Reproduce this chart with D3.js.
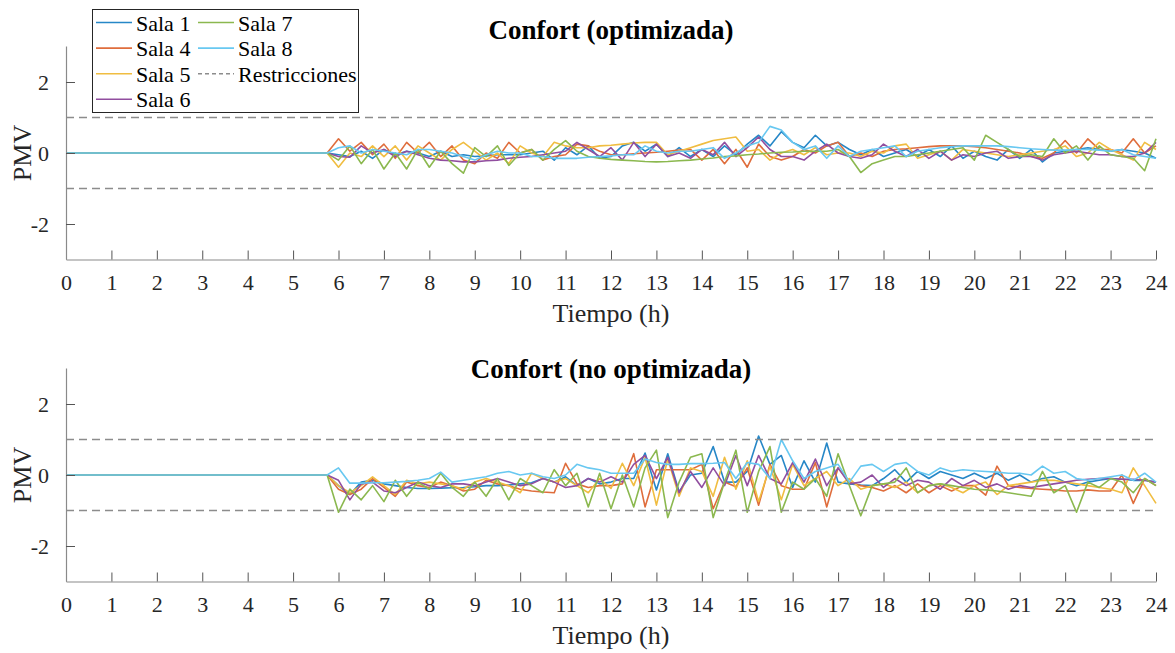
<!DOCTYPE html>
<html>
<head>
<meta charset="utf-8">
<script src="https://cdn.jsdelivr.net/npm/d3@7"></script>
<style>
  html, body { margin: 0; padding: 0; background: #fff; }
  svg text { font-family: "Liberation Serif", "Times New Roman", serif; }
</style>
</head>
<body>
<div id="chart"></div>
<script>
// time (h): 0, then every 15 min from 5.75 to 24
var hours = [0, 5.75,
  6, 6.25, 6.5, 6.75, 7, 7.25, 7.5, 7.75, 8, 8.25, 8.5, 8.75,
  9, 9.25, 9.5, 9.75, 10, 10.25, 10.5, 10.75, 11, 11.25, 11.5, 11.75,
  12, 12.25, 12.5, 12.75, 13, 13.25, 13.5, 13.75, 14, 14.25, 14.5, 14.75,
  15, 15.25, 15.5, 15.75, 16, 16.25, 16.5, 16.75, 17, 17.25, 17.5, 17.75,
  18, 18.25, 18.5, 18.75, 19, 19.25, 19.5, 19.75, 20, 20.25, 20.5, 20.75,
  21, 21.25, 21.5, 21.75, 22, 22.25, 22.5, 22.75, 23, 23.25, 23.5, 23.75, 24];

var salas = ['Sala 1', 'Sala 4', 'Sala 5', 'Sala 6', 'Sala 7', 'Sala 8'];
var colors = ['#2687c7', '#df6d3c', '#f0bd41', '#914e9f', '#8bb84f', '#68c8f1'];
var limits = [1, -1];
var xTicks = [0,1,2,3,4,5,6,7,8,9,10,11,12,13,14,15,16,17,18,19,20,21,22,23,24];
var yTicks = [-2, 0, 2];

// PMV, optimizada
var opt1 = [0, 0,
  -0.05,-0.1,0.05,-0.15,  0.1,-0.05,0.05,0.0,  -0.1,0.05,-0.1,-0.05,  -0.1,-0.08,-0.05,-0.05,
  -0.05,0.0,0.05,-0.2,  0.15,-0.05,0.2,-0.15,  -0.1,0.2,0.3,0.05,  0.25,-0.1,0.15,-0.1,
  0.1,-0.1,0.2,-0.05,  0.25,0.5,0.2,0.6,  0.3,0.15,0.5,0.2,  0.3,0.1,-0.05,0.1,
  -0.1,0.0,0.1,-0.1,  0.1,-0.1,0.2,-0.15,  0.05,-0.1,-0.2,0.1,  -0.15,0.1,-0.25,0.0,
  0.05,0.1,0.15,0.1,  0.05,0.1,0.05,0.0,  -0.15];
var opt4 = [0, 0,
  0.4,0.05,0.3,-0.05,  0.25,-0.15,0.3,0.0,  0.3,-0.1,0.2,-0.2,  -0.3,0.0,-0.15,0.3,
  0.0,0.1,-0.2,-0.1,  -0.05,0.25,0.2,0.05,  -0.05,-0.05,-0.02,0.0,  0.02,0.05,0.08,0.1,
  -0.2,0.1,-0.3,0.1,  -0.4,0.25,-0.1,-0.2,  -0.1,0.1,0.0,0.2,  0.3,-0.1,0.0,-0.1,
  0.05,0.1,0.12,0.15,  0.18,0.2,0.2,0.2,  0.18,0.15,0.1,0.05,  0.0,-0.1,-0.15,0.0,
  0.35,0.0,0.4,0.1,  0.1,0.0,0.4,0.0,  0.2];
var opt5 = [0, 0,
  -0.4,0.0,-0.1,0.2,  -0.1,0.2,-0.2,0.2,  0.0,-0.2,0.1,0.3,  0.05,-0.2,0.0,-0.3,
  0.2,0.0,-0.1,0.3,  0.2,0.15,0.15,0.2,  0.22,0.25,0.28,0.3,  0.3,-0.05,0.05,0.15,
  0.25,0.35,0.4,0.45,  0.05,0.1,-0.2,0.0,  0.1,-0.05,0.15,-0.05,  0.0,0.0,-0.1,0.05,
  0.0,0.2,0.25,-0.15,  -0.05,0.05,-0.2,0.1,  0.05,0.0,-0.05,-0.1,  -0.05,0.0,0.05,0.1,
  0.2,-0.1,0.0,0.3,  0.1,-0.05,-0.2,0.3,  0.1];
var opt6 = [0, 0,
  -0.1,-0.12,0.2,0.0,  0.1,-0.1,0.05,-0.05,  -0.15,-0.2,-0.22,-0.25,  -0.25,-0.22,-0.2,-0.15,
  -0.12,-0.1,-0.05,0.0,  0.05,0.3,0.1,-0.1,  0.15,-0.2,0.3,-0.1,  0.25,-0.1,0.0,-0.15,
  0.1,-0.05,0.3,-0.1,  0.15,0.45,0.1,-0.1,  -0.1,-0.2,0.05,0.25,  0.0,-0.1,-0.15,-0.05,
  0.25,0.05,-0.1,0.1,  -0.15,0.05,-0.2,-0.05,  -0.1,0.0,0.05,-0.15,  -0.1,-0.1,-0.2,-0.05,
  0.0,0.05,0.0,-0.05,  -0.05,-0.1,-0.1,0.0,  0.3];
var opt7 = [0, 0,
  -0.2,0.2,-0.3,0.1,  -0.45,0.0,-0.45,0.1,  -0.4,0.05,-0.3,-0.57,  0.15,-0.1,0.2,-0.35,
  0.0,0.1,-0.2,0.1,  0.35,0.05,-0.1,-0.15,  -0.18,-0.2,-0.22,-0.24,  -0.25,-0.24,-0.22,-0.2,
  -0.17,-0.14,-0.1,-0.08,  -0.05,-0.03,0.0,0.02,  0.03,0.05,0.05,0.05,  0.1,-0.1,-0.55,-0.3,
  -0.2,-0.1,-0.1,-0.05,  0.0,0.05,0.1,0.15,  -0.2,0.5,0.3,0.1,  -0.1,-0.05,-0.1,0.4,
  0.0,0.2,-0.2,0.2,  -0.05,-0.1,-0.15,-0.5,  0.4];
var opt8 = [0, 0,
  0.15,0.2,0.0,0.1,  0.05,0.0,-0.05,0.1,  0.1,0.05,0.0,-0.1,  -0.2,-0.05,0.05,0.0,
  0.0,-0.1,-0.1,-0.15,  -0.15,-0.15,-0.12,-0.1,  -0.08,-0.05,-0.05,0.2,  0.05,0.0,0.05,0.05,
  0.1,0.15,-0.15,0.0,  0.2,0.3,0.75,0.65,  0.3,0.1,0.2,-0.15,  0.2,-0.1,0.05,0.1,
  0.15,0.2,-0.1,0.05,  0.1,0.15,0.18,0.2,  0.2,0.2,0.2,0.18,  0.15,0.12,0.1,0.08,
  0.08,0.1,0.1,0.08,  0.05,0.1,-0.05,-0.1,  -0.15];

// PMV, no optimizada
var noOpt1 = [0, 0,
  -0.3,-0.55,-0.2,-0.15,  -0.25,-0.3,-0.35,-0.38,  -0.38,-0.37,-0.36,-0.35,  -0.33,-0.3,-0.3,-0.28,
  -0.25,-0.22,-0.1,-0.2,  -0.05,-0.3,-0.1,-0.25,  -0.2,-0.1,-0.1,0.62,  -0.42,0.6,-0.47,0.0,
  0.05,0.8,-0.2,-0.2,  0.1,1.1,0.3,0.55,  -0.35,0.4,-0.2,0.9,  -0.2,-0.25,-0.28,-0.3,
  -0.1,0.15,-0.2,0.1,  -0.1,0.1,0.0,-0.1,  0.05,-0.1,0.05,-0.15,  0.0,-0.2,-0.1,-0.05,
  -0.2,-0.3,-0.2,-0.15,  -0.1,-0.12,-0.15,-0.15,  -0.2];
var noOpt4 = [0, 0,
  -0.4,-0.55,-0.4,-0.1,  -0.35,-0.6,-0.2,-0.3,  -0.35,-0.2,-0.3,-0.45,  -0.4,-0.15,-0.25,-0.3,
  -0.4,-0.45,-0.48,-0.5,  0.33,-0.25,-0.35,-0.3,  -0.3,-0.25,0.6,-0.9,  0.15,0.15,0.15,0.15,
  0.3,-0.95,-0.2,-0.33,  0.2,-0.85,0.3,-0.3,  -0.4,-0.4,0.35,-0.9,  0.2,-0.2,-0.3,-0.35,
  -0.45,-0.3,-0.5,-0.25,  -0.5,-0.3,-0.45,-0.3,  -0.3,-0.57,0.25,-0.3,  -0.35,-0.38,-0.4,-0.42,
  -0.45,-0.45,-0.42,-0.45,  -0.45,0.0,-0.8,-0.1,  -0.3];
var noOpt5 = [0, 0,
  -0.3,-0.5,-0.3,-0.05,  -0.3,-0.55,-0.15,-0.25,  -0.2,-0.25,-0.3,-0.4,  -0.2,-0.1,-0.2,-0.3,
  -0.5,0.05,-0.1,-0.2,  -0.1,-0.3,-0.5,-0.1,  -0.38,0.33,-0.3,0.5,  -0.85,0.45,-0.6,0.2,
  0.1,-0.6,0.5,-0.4,  0.4,-0.75,0.25,-0.7,  0.3,-0.3,-0.1,0.1,  -0.3,-0.1,-0.4,-0.3,
  -0.25,-0.35,-0.2,-0.5,  -0.3,-0.25,-0.35,-0.5,  -0.3,-0.2,-0.55,-0.3,  -0.25,-0.2,-0.15,-0.15,
  -0.2,-0.25,-0.3,-0.35,  -0.4,-0.5,0.2,-0.3,  -0.8];
var noOpt6 = [0, 0,
  -0.15,-0.7,-0.25,-0.2,  -0.45,-0.5,-0.35,-0.2,  -0.3,-0.35,-0.25,-0.25,  -0.3,-0.2,-0.1,-0.2,
  -0.3,-0.25,-0.1,-0.2,  -0.35,-0.3,-0.1,-0.2,  -0.05,-0.2,0.3,0.55,  -0.1,0.5,-0.5,0.1,
  -0.35,0.2,-0.3,0.55,  -0.3,0.55,-0.1,-0.25,  0.35,-0.2,0.45,-0.3,  0.2,-0.25,-0.2,0.0,
  -0.35,-0.1,-0.3,-0.15,  -0.2,-0.4,-0.1,-0.3,  -0.15,-0.35,-0.25,-0.4,  -0.3,-0.35,-0.3,-0.25,
  -0.2,-0.15,-0.12,-0.1,  -0.1,-0.12,-0.12,-0.15,  -0.2];
var noOpt7 = [0, 0,
  -1.05,-0.4,-0.7,-0.3,  -0.75,-0.15,-0.6,-0.2,  -0.4,0.05,-0.35,-0.6,  -0.2,-0.6,-0.1,-0.7,
  -0.1,-0.3,-0.5,0.15,  -0.3,0.05,-0.9,0.05,  -0.95,0.0,-0.9,0.2,  0.7,-1.2,-0.2,0.5,
  0.6,-1.2,-0.2,0.7,  -1.05,0.1,0.8,-1.05,  -0.2,-0.4,-0.1,-0.6,  0.6,-0.3,-1.15,-0.3,
  -0.25,-0.2,0.2,-0.5,  -0.3,-0.25,-0.3,-0.35,  -0.4,-0.42,-0.45,-0.5,  -0.55,-0.6,0.1,-0.5,
  -0.3,-1.05,-0.2,-0.35,  -0.1,-0.2,-0.5,-0.1,  -0.3];
var noOpt8 = [0, 0,
  0.2,-0.23,-0.23,-0.22,  -0.22,-0.2,-0.18,-0.15,  -0.1,0.08,-0.2,-0.15,  -0.1,-0.05,0.05,0.1,
  0.0,0.05,-0.05,-0.1,  0.0,0.3,0.2,0.15,  0.05,0.05,0.05,0.45,  0.35,0.3,0.3,0.32,
  0.32,0.33,0.35,-0.1,  0.35,0.3,-0.1,1.0,  0.4,-0.1,0.1,0.2,  0.3,-0.2,0.25,0.3,
  0.1,0.3,0.35,0.1,  0.0,0.2,0.1,0.15,  0.12,0.1,0.08,0.05,  0.05,0.0,0.25,0.05,
  0.1,-0.1,-0.15,-0.1,  -0.05,0.0,-0.15,0.05,  -0.2];

var W = 1175, H = 653;
var svg = d3.select('#chart').append('svg').attr('width', W).attr('height', H);
var x = d3.scaleLinear().domain([0, 24]).range([66, 1156]);

var panels = [
  { title: 'Confort (optimizada)', titleY: 39, top: 46.5, bottom: 259.5, series: [opt1, opt4, opt5, opt6, opt7, opt8] },
  { title: 'Confort (no optimizada)', titleY: 378, top: 368.5, bottom: 581.5, series: [noOpt1, noOpt4, noOpt5, noOpt6, noOpt7, noOpt8] }
];

panels.forEach(function(p) {
  var y = d3.scaleLinear().domain([-3, 3]).range([p.bottom, p.top]);
  var g = svg.append('g');

  var line = d3.line().x(function(d, i) { return x(hours[i]); }).y(function(d) { return y(d); });
  p.series.forEach(function(s, k) {
    g.append('path').datum(s).attr('d', line)
      .attr('fill', 'none').attr('stroke', colors[k]).attr('stroke-width', 1.6)
      .attr('stroke-linejoin', 'round');
  });

  limits.forEach(function(v) {
    g.append('line').attr('x1', x(0)).attr('x2', x(24)).attr('y1', y(v)).attr('y2', y(v))
      .attr('stroke', '#8c8c8c').attr('stroke-width', 1.5).attr('stroke-dasharray', '8,5');
  });

  var xa = svg.append('g').attr('transform', 'translate(0,' + p.bottom + ')')
    .call(d3.axisBottom(x).tickValues(xTicks).tickSizeInner(-9).tickSizeOuter(0).tickPadding(15));
  var ya = svg.append('g').attr('transform', 'translate(66,0)')
    .call(d3.axisLeft(y).tickValues(yTicks).tickFormat(function(d) { return String(d); })
      .tickSizeInner(-9).tickSizeOuter(0).tickPadding(17));
  [xa, ya].forEach(function(a) {
    a.select('.domain').attr('stroke', '#8a8a8a').attr('stroke-width', 1.2);
    a.selectAll('.tick line').attr('stroke', '#555').attr('stroke-width', 1);
    a.selectAll('.tick text').attr('fill', '#262626').attr('font-size', '22px')
      .attr('font-family', '"Liberation Serif", serif');
  });
  ya.select('.domain').attr('d', 'M0.5,' + p.bottom + 'V' + p.top);

  svg.append('text').attr('x', 611).attr('y', p.titleY).attr('text-anchor', 'middle')
    .attr('font-size', '27px').attr('font-weight', 'bold').attr('fill', '#000').text(p.title);
  svg.append('text').attr('x', 611).attr('y', p.bottom + 62).attr('text-anchor', 'middle')
    .attr('font-size', '26px').attr('fill', '#262626').text('Tiempo (h)');
  svg.append('text').attr('transform', 'translate(31,' + y(0) + ') rotate(-90)')
    .attr('text-anchor', 'middle').attr('font-size', '26px').attr('fill', '#262626').text('PMV');
});

// legend
var lg = svg.append('g');
lg.append('rect').attr('x', 92.5).attr('y', 9.5).attr('width', 266).attr('height', 103)
  .attr('fill', '#fff').attr('stroke', '#262626').attr('stroke-width', 1);
var items = salas.map(function(s, i) { return { label: s, color: colors[i], dash: null }; });
items.push({ label: 'Restricciones', color: '#8c8c8c', dash: '4,3' });
items.forEach(function(it, i) {
  var col = i < 4 ? 0 : 1, row = i < 4 ? i : i - 4;
  var lx = col === 0 ? 96 : 198, ly = 22.5 + row * 25.6;
  lg.append('line').attr('x1', lx).attr('x2', lx + 36).attr('y1', ly).attr('y2', ly)
    .attr('stroke', it.color).attr('stroke-width', 1.6)
    .attr('stroke-dasharray', it.dash);
  lg.append('text').attr('x', lx + 40).attr('y', ly + 8).attr('font-size', '22px')
    .attr('fill', '#000').text(it.label);
});
</script>
</body>
</html>
